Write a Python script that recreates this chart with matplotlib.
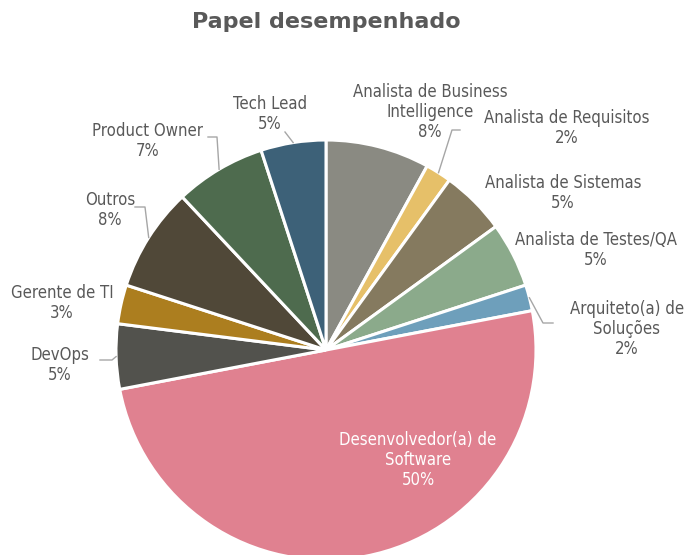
import numpy as np
import matplotlib
matplotlib.use('Agg')
import matplotlib.pyplot as plt


# Papel desempenhado - distribution of roles

categories = ['Analista de Business\nIntelligence', 'Analista de Requisitos', 'Analista de Sistemas',
              'Analista de Testes/QA', 'Arquiteto(a) de\nSoluções', 'Desenvolvedor(a) de\nSoftware',
              'DevOps', 'Gerente de TI', 'Outros', 'Product Owner', 'Tech Lead']
shares = [8, 2, 5, 5, 2, 50, 5, 3, 8, 7, 5]
pct_labels = ['8%', '2%', '5%', '5%', '2%', '50%', '5%', '3%', '8%', '7%', '5%']

colors = ['#8A8A82', '#E6C069', '#857A5F', '#8BAA8B', '#6E9FBB', '#E08190',
          '#52524D', '#AC7E1F', '#504838', '#4E6B4E', '#3D6178']

# label centres in pixels (x, y from top), and leader elbows (None = no leader)
label_px = [(430, 112), (567, 128), (563, 193), (596, 250), (627, 329), (418, 460),
            (60, 365), (62, 303), (110, 210), (148, 141), (270, 114)]
leader_px = [None, [(460, 130), (452, 130)], None, None, [(553, 323), (543, 323)], None,
             [(100, 360), (112, 360)], None, [(135, 207), (145, 207)],
             [(208, 137), (217, 137)], [(285, 132)]]
line_gap = 20  # px between label lines

W, H = 685, 555
cx, cy, R = 326, 350, 210


def to_data(px, py):
    return (px - cx) / R, (cy - py) / R


plt.rcParams['font.family'] = ['DejaVu Sans']

fig = plt.figure(figsize=(W / 100, H / 100), dpi=100)
ax = fig.add_axes([0, 0, 1, 1])

wedges, _ = ax.pie(shares, colors=colors, startangle=90, counterclock=False, radius=1.0,
                   wedgeprops=dict(edgecolor='white', linewidth=2.2))
ax.set_xlim(-cx / R, (W - cx) / R)
ax.set_ylim(-(H - cy) / R, cy / R)
ax.set_aspect('equal')
ax.axis('off')

cum = np.cumsum([0] + shares[:-1])
for i, w in enumerate(wedges):
    lines = categories[i].split('\n') + [pct_labels[i]]
    px, py = label_px[i]
    top = py - line_gap * (len(lines) - 1) / 2
    txt_color = 'white' if i == 5 else '#595959'
    for k, line in enumerate(lines):
        lx, ly = to_data(px, top + k * line_gap)
        ax.text(lx, ly, line, ha='center', va='center',
                fontsize=12, fontstretch='condensed', color=txt_color)
    if leader_px[i] is not None:
        mid = np.deg2rad(90 - (cum[i] + shares[i] / 2) / sum(shares) * 360)
        pts = [to_data(*p) for p in leader_px[i]]
        pts.append((np.cos(mid), np.sin(mid)))
        xs, ys = zip(*pts)
        ax.plot(xs, ys, color='#A6A6A6', linewidth=1)

fig.text(326 / W, 1 - 22 / H, 'Papel desempenhado', ha='center', va='center',
         fontsize=16, fontweight='bold', color='#595959')

fig.savefig('out.png', dpi=100)
